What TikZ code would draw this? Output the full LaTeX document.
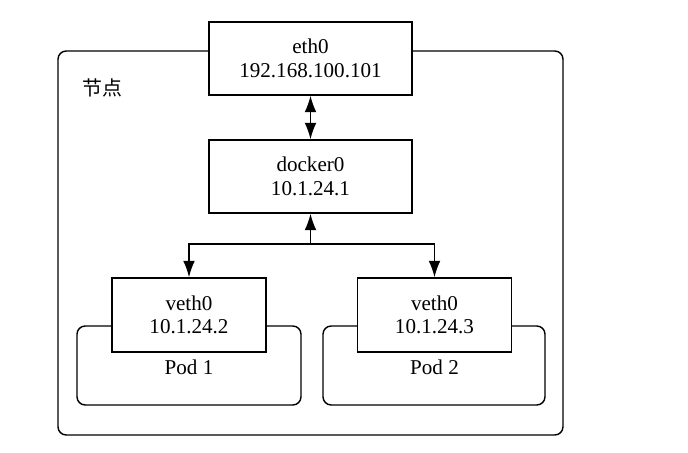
\documentclass[tikz,border=0pt]{standalone}
\usepackage{fontspec}
\setmainfont{Liberation Serif}
\newfontfamily\cjk{Noto Sans CJK SC}
\usetikzlibrary{arrows.meta}
\begin{document}
\begin{tikzpicture}[x=0.03cm,y=-0.03cm]
		\tikzset{box/.style = {shape=rectangle,draw,fill=white,line width=1.2pt,align=center,font=\fontsize{18}{20}\selectfont,minimum width=6.09cm,minimum height=2.19cm}}
		\tikzset{smallbox/.style = {box,minimum width=4.62cm,minimum height=2.22cm}}
		\tikzset{frame/.style = {draw,line width=1.2pt,rounded corners=7pt}}
		\tikzset{link/.style = {line width=1.2pt,-{Latex[length=14pt,width=10pt]}}}
		\useasboundingbox (0,0) rectangle (688,453);
		\draw[frame] (58,51) rectangle (563,435);
		\node[font=\cjk\fontsize{17}{17}\selectfont] (title) at (102,88) {节点};
		\draw[frame] (77,326) rectangle (301,405);
		\draw[frame] (323,326) rectangle (545,405);
		\node[box] (eth) at (310.5,58.5) {eth0\\192.168.100.101};
		\node[box] (docker) at (310.5,176.5) {docker0\\10.1.24.1};
		\node[smallbox] (vetha) at (189,315) {veth0\\10.1.24.2};
		\node[smallbox] (vethb) at (434.5,315) {veth0\\10.1.24.3};
		\node[font=\fontsize{18}{20}\selectfont] (poda) at (189,367) {Pod 1};
		\node[font=\fontsize{18}{20}\selectfont] (podb) at (434.5,367) {Pod 2};
		\coordinate (split) at (310.5,244);
		\draw[link,{Latex[length=14pt,width=10pt]}-{Latex[length=14pt,width=10pt]}] (eth) -- (docker);
		\draw[link] (split) -- (docker);
		\draw[link] (split) -| (vetha);
		\draw[link] (split) -| (vethb);
	\end{tikzpicture}
\end{document}
